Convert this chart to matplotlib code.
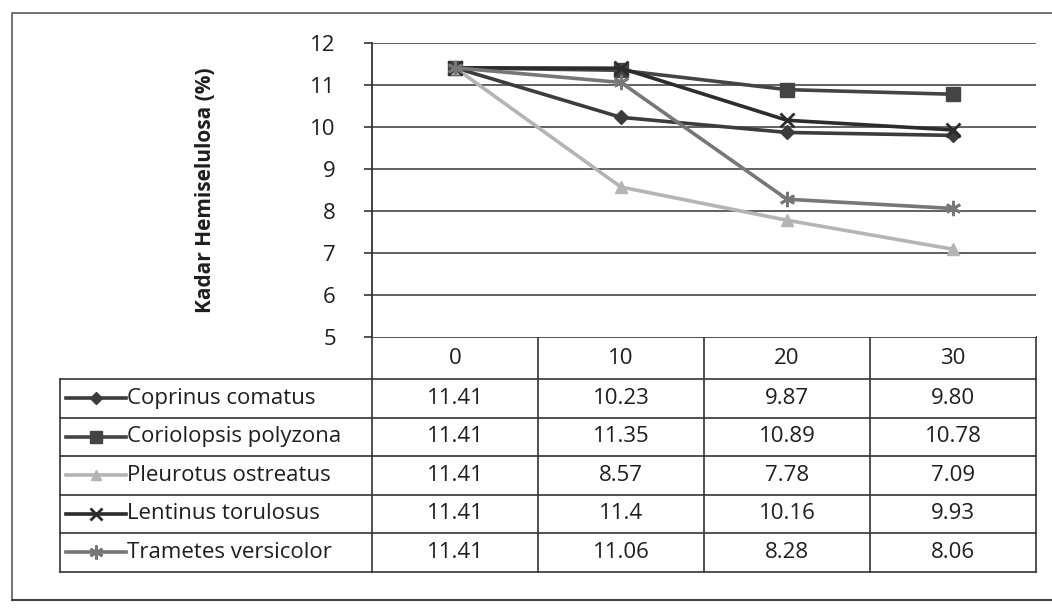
import matplotlib.pyplot as plt

plt.rcParams['font.family'] = ['Open Sans', 'DejaVu Sans']

days = ['0', '10', '20', '30']
species = ['Coprinus comatus', 'Coriolopsis polyzona', 'Pleurotus ostreatus',
           'Lentinus torulosus', 'Trametes versicolor']
coprinus = [11.41, 10.23, 9.87, 9.80]
coriolopsis = [11.41, 11.35, 10.89, 10.78]
pleurotus = [11.41, 8.57, 7.78, 7.09]
lentinus = [11.41, 11.4, 10.16, 9.93]
trametes = [11.41, 11.06, 8.28, 8.06]
cell_text = [['11.41', '10.23', '9.87', '9.80'],
             ['11.41', '11.35', '10.89', '10.78'],
             ['11.41', '8.57', '7.78', '7.09'],
             ['11.41', '11.4', '10.16', '9.93'],
             ['11.41', '11.06', '8.28', '8.06']]

series = [coprinus, coriolopsis, pleurotus, lentinus, trametes]
colors = ['#3c3c3c', '#444444', '#b4b4b4', '#2c2c2c', '#777777']
markers = ['D', 's', '^', 'x', (6, 2, 0)]
msizes = [7, 10, 8, 10, 11]
txt = '#1e1e1e'
fs = 16

W, H = 1052, 609
fig = plt.figure(figsize=(W / 100, H / 100), dpi=100)

# overlay in pixel coordinates for frame and table
ov = fig.add_axes([0, 0, 1, 1])
ov.set_xlim(0, W)
ov.set_ylim(H, 0)
ov.axis('off')

ax_l, ax_r, ax_t, ax_b = 372, 1036, 43, 337
ax = fig.add_axes([ax_l / W, 1 - ax_b / H, (ax_r - ax_l) / W, (ax_b - ax_t) / H])
ax.set_xlim(-0.5, 3.5)
ax.set_ylim(5, 12)
ax.set_yticks(range(5, 13))
ax.set_xticks([])
for y in range(6, 13):
    ax.axhline(y, color='#555555', lw=1.3, zorder=1)
for s in ['top', 'right', 'bottom']:
    ax.spines[s].set_visible(False)
ax.spines['left'].set_color('#333333')
ax.spines['left'].set_linewidth(1.3)
ax.tick_params(axis='y', direction='out', length=6, width=1.2, color='#333333',
               labelsize=fs, labelcolor=txt, pad=20)
ax.set_ylabel('Kadar Hemiselulosa (%)', fontsize=15, fontweight='bold',
              color=txt, labelpad=68)

xs = range(len(days))
for vals, c, m, ms in zip(series, colors, markers, msizes):
    ax.plot(xs, vals, color=c, lw=2.6, marker=m, markersize=ms,
            markeredgewidth=2 if m in ('x', (6, 2, 0)) else 1,
            markeredgecolor=c, markerfacecolor=c, zorder=3, clip_on=False)

# outer frame
ov.plot([12, 12, 1052], [600, 13, 13], color='#666666', lw=1.3)
ov.plot([12, 1052], [600, 600], color='#444444', lw=1.5)

# data table
lc = '#333333'
leg_l = 60
head_t, head_b = 337, 379
row_h = 38.5
n = len(species)
bot = head_b + n * row_h
col_w = (ax_r - ax_l) / len(days)
cols = [ax_l + i * col_w for i in range(len(days) + 1)]

ov.plot([ax_l, ax_r], [head_t, head_t], color=lc, lw=1.2)
for i in range(n + 1):
    y = head_b + i * row_h
    ov.plot([leg_l, ax_r], [y, y], color=lc, lw=1.2)
ov.plot([leg_l, leg_l], [head_b, bot], color=lc, lw=1.2)
for x in cols:
    ov.plot([x, x], [head_t, bot], color=lc, lw=1.2)

for j, d in enumerate(days):
    ov.text(cols[j] + col_w / 2, (head_t + head_b) / 2 + 1, d, ha='center',
            va='center', fontsize=fs, color=txt)

for i, name in enumerate(species):
    yc = head_b + (i + 0.5) * row_h
    ov.plot([66, 126], [yc, yc], color=colors[i], lw=2.6)
    m = markers[i]
    ov.plot([96], [yc], marker=m, markersize=msizes[i] - 1, color=colors[i],
            markeredgewidth=2 if m in ('x', (6, 2, 0)) else 1)
    ov.text(127, yc, name, ha='left', va='center', fontsize=fs, color=txt)
    for j in range(len(days)):
        ov.text(cols[j] + col_w / 2, yc, cell_text[i][j], ha='center',
                va='center', fontsize=fs, color=txt)

fig.savefig('out.png', dpi=100)
